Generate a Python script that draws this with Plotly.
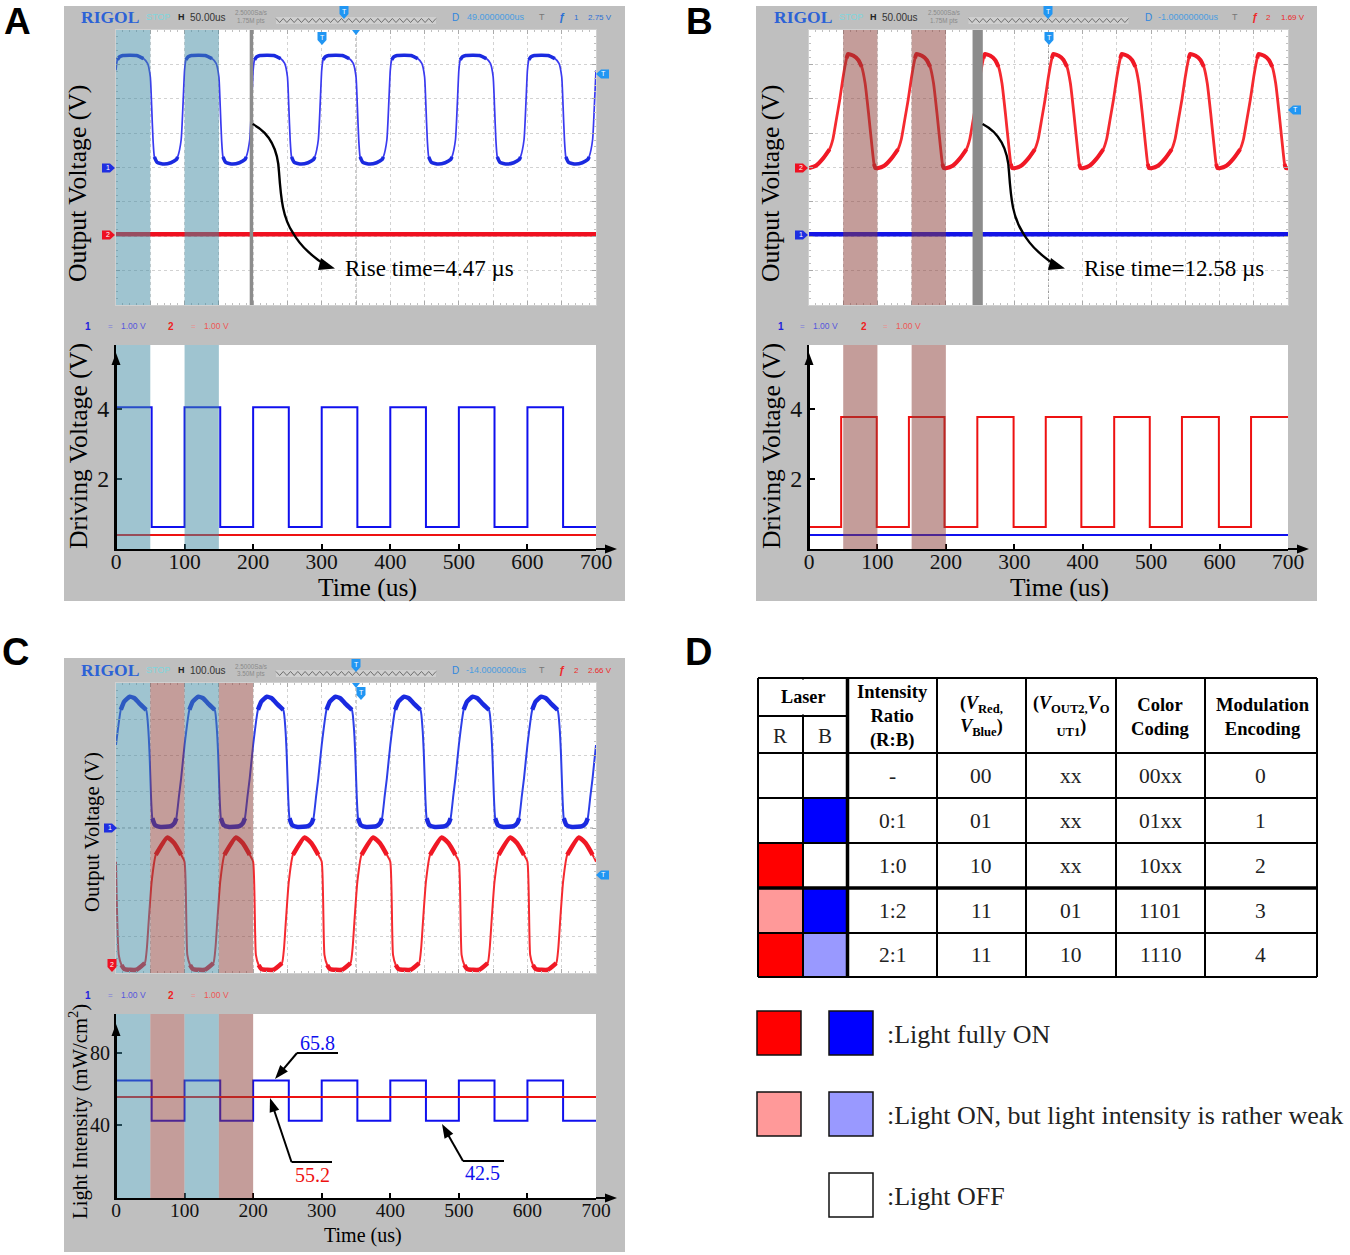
import plotly.graph_objects as go

W, H = 1350, 1255
SERIF = "Liberation Serif"
SANS = "Liberation Sans"

# --- one-period scope waveforms (time in us, level in scope divisions) ---
A_BLUE_T = [0, 2, 5, 10, 30, 40, 46, 50, 52, 54, 56, 60, 70, 80, 88, 90, 95, 98]
A_BLUE_V = [6.83, 7.13, 7.22, 7.26, 7.26, 7.17, 7.03, 6.64, 5.77, 4.80, 4.31, 4.15, 4.10, 4.14, 4.23, 4.31, 4.80, 5.96]
A_RED_T = [0, 700]
A_RED_V = [2.06, 2.06]

B_RED_T = [0, 10, 20, 30, 35, 40, 45, 50, 55, 57, 65, 72, 77, 82, 87, 92, 95, 97]
B_RED_V = [3.98, 4.05, 4.25, 4.53, 4.83, 5.40, 5.98, 6.65, 7.18, 7.30, 7.25, 7.13, 6.93, 6.45, 5.58, 4.62, 4.10, 3.98]
B_BLUE_T = [0, 700]
B_BLUE_V = [2.06, 2.06]

C_BLUE_T = [0, 7, 12, 20, 27, 34, 44, 47, 49, 51, 53, 57, 65, 80, 85, 88, 92, 95]
C_BLUE_V = [6.29, 7.26, 7.49, 7.62, 7.58, 7.44, 7.26, 6.75, 6.01, 4.91, 4.27, 4.08, 4.03, 4.05, 4.13, 4.27, 4.91, 5.37]
C_RED_T = [0, 4, 8, 12, 30, 42, 45, 48, 52, 58, 75, 85, 95]
C_RED_V = [3.07, 0.50, 0.22, 0.11, 0.09, 0.27, 0.68, 1.51, 2.52, 3.26, 3.74, 3.58, 3.26]

# --- lower panels ---
TIME_TICKS = [0, 100, 200, 300, 400, 500, 600, 700]
A_DRIVE_HIGH = [[0, 52], [100, 152], [200, 252], [300, 352], [400, 452], [500, 552], [600, 652]]
A_DRIVE_LEVELS = [4.05, 0.63]
A_DRIVE_RED = 0.40
B_DRIVE_HIGH = [[47, 99], [146, 198], [246, 299], [346, 398], [446, 498], [545, 599], [646, 700]]
B_DRIVE_LEVELS = [3.77, 0.63]
B_DRIVE_BLUE = 0.40
C_INT_HIGH = [[0, 52], [100, 152], [200, 252], [300, 352], [400, 452], [500, 552], [600, 652]]
C_INT_LEVELS = [64.6, 42.5]
C_INT_RED = 55.6

TEAL = "#3f89a1"
ROSE = "#893b35"
A_SHADE = [(0, 50, TEAL), (100, 150, TEAL)]
B_SHADE = [(50, 100, ROSE), (150, 200, ROSE)]
C_SHADE = [(0, 50, TEAL), (50, 100, ROSE), (100, 150, TEAL), (150, 200, ROSE)]

# --- table ---
TABLE_RATIO = ["-", "0:1", "1:0", "1:2", "2:1"]
TABLE_V = ["00", "01", "10", "11", "11"]
TABLE_VOUT = ["xx", "xx", "xx", "01", "10"]
TABLE_COLOR = ["00xx", "01xx", "10xx", "1101", "1110"]
TABLE_MOD = ["0", "1", "2", "3", "4"]
TABLE_R = ["#ffffff", "#ffffff", "#ff0000", "#ff9999", "#ff0000"]
TABLE_B = ["#ffffff", "#0000ff", "#ffffff", "#0000ff", "#9999ff"]


def X(p):
    return p / W


def Y(p):
    return 1 - p / H


shapes, annos, traces = [], [], []


def text(x, y, s, size=12, color="black", family=SERIF, anchor="center", angle=0, weight=None):
    font = dict(size=size, color=color, family=family)
    if weight:
        font["weight"] = weight
    annos.append(dict(xref="paper", yref="paper", x=X(x), y=Y(y), text=s, showarrow=False,
                      xanchor=anchor, yanchor="middle", textangle=angle, borderpad=0, font=font))


def rect(x0, y0, x1, y1, fill, line=None, lw=0, layer="below"):
    shapes.append(dict(type="rect", xref="paper", yref="paper", x0=X(x0), x1=X(x1), y0=Y(y0), y1=Y(y1),
                       fillcolor=fill, layer=layer, line=dict(color=line or fill, width=lw)))


def seg(x0, y0, x1, y1, color="black", lw=2, layer="above"):
    shapes.append(dict(type="line", xref="paper", yref="paper", x0=X(x0), x1=X(x1), y0=Y(y0), y1=Y(y1),
                       layer=layer, line=dict(color=color, width=lw)))


def poly(pts, fill, layer="above"):
    d = "M " + " L ".join(f"{X(a):.5f},{Y(b):.5f}" for a, b in pts) + " Z"
    shapes.append(dict(type="path", xref="paper", yref="paper", path=d, fillcolor=fill, layer=layer,
                       line=dict(color=fill, width=0)))


def periodic(ts, vs, n=7, period=100):
    xs, ys = [], []
    for k in range(n):
        xs += [k * period + t for t in ts]
        ys += list(vs)
    xs.append(n * period)
    ys.append(vs[0])
    return xs, ys


def bands(xs, ys, lo, hi):
    """Keep only the flat, noisy parts of the wave for the thicker band."""
    out = []
    for y in ys:
        out.append(y if (y >= hi or y <= lo) else None)
    return xs, out


def square(high, levels, end=700):
    xs, ys = [], []
    cur = 0
    for a, b in high:
        if a > cur:
            xs += [cur, a]
            ys += [levels[1], levels[1]]
        xs += [a, b]
        ys += [levels[0], levels[0]]
        cur = b
    if cur < end:
        xs += [cur, end]
        ys += [levels[1], levels[1]]
    return xs, ys


layout_axes = {}


def sfx(idx):
    return "" if idx == 1 else str(idx)


def add_axes(idx, x0, x1, ytop, ybot, yrange, scope, yticks=None, tick_size=21.5, ytick_size=24, standoff=-8):
    xn = f"xaxis{sfx(idx)}"
    yn = f"yaxis{sfx(idx)}"
    common_x = dict(domain=[X(x0), X(x1)], range=[0, 700], anchor=f"y{sfx(idx)}", zeroline=False, automargin=False)
    common_y = dict(domain=[Y(ybot), Y(ytop)], range=yrange, anchor=f"x{sfx(idx)}", zeroline=False, automargin=False)
    if scope:
        scope_style = dict(showticklabels=False, ticks="inside", ticklen=4, tickcolor="#aaaaaa", tickwidth=1,
                           showgrid=True, gridcolor="#d2d2d2", griddash="dot", gridwidth=1, showline=True,
                           mirror="allticks", linecolor="#d0d0d0", linewidth=1)
        common_x.update(dtick=50, tick0=0, minor=dict(ticks="inside", dtick=10, ticklen=2, tickcolor="#c0c0c0"), **scope_style)
        common_y.update(dtick=1, tick0=0, minor=dict(ticks="inside", dtick=0.2, ticklen=2, tickcolor="#c0c0c0"), **scope_style)
    else:
        common_x.update(tickvals=TIME_TICKS, ticktext=[str(t) for t in TIME_TICKS], ticks="inside", ticklen=5,
                        tickcolor="black", tickwidth=1.5, showgrid=False, showline=True, linecolor="black",
                        linewidth=2, ticklabelstandoff=standoff, tickfont=dict(family=SERIF, size=tick_size, color="#111"))
        common_y.update(tickvals=yticks, ticktext=[str(t) for t in yticks], ticks="inside", ticklen=6,
                        tickcolor="black", tickwidth=1.5, showgrid=False, showline=True, linecolor="black",
                        linewidth=2, tickfont=dict(family=SERIF, size=ytick_size, color="#111"))
    layout_axes[xn] = common_x
    layout_axes[yn] = common_y


def line(idx, xs, ys, color, width, smooth=False):
    ln = dict(color=color, width=width, shape="spline", smoothing=0.5) if smooth else dict(color=color, width=width)
    traces.append(go.Scatter(x=xs, y=ys, xaxis=f"x{sfx(idx)}", yaxis=f"y{sfx(idx)}", mode="lines", connectgaps=False,
                             line=ln, hoverinfo="skip", showlegend=False))


def shade(idx, spans):
    for a, b, c in spans:
        shapes.append(dict(type="rect", xref=f"x{sfx(idx)}", yref=f"y{sfx(idx)} domain", x0=a, x1=b, y0=0, y1=1,
                           fillcolor=c, opacity=0.5, line=dict(width=0), layer="above"))


def center_cross(idx):
    xr = f"x{sfx(idx)}"
    yr = f"y{sfx(idx)}"
    shapes.append(dict(type="line", xref=f"{xr} domain", yref=yr, x0=0, x1=1, y0=4, y1=4, layer="below",
                       line=dict(color="#9a9a9a", width=1, dash="dot")))
    shapes.append(dict(type="line", xref=xr, yref=f"{yr} domain", x0=350, x1=350, y0=0, y1=1, layer="below",
                       line=dict(color="#9a9a9a", width=1, dash="dot")))


def pennant(x, y, label, color, direction):
    s = 4.5
    if direction == "right":
        pts = [(x - 6, y - s), (x + 2, y - s), (x + 7, y), (x + 2, y + s), (x - 6, y + s)]
    elif direction == "left":
        pts = [(x + 6, y - s), (x - 2, y - s), (x - 7, y), (x - 2, y + s), (x + 6, y + s)]
    else:
        pts = [(x - s, y - 6), (x + s, y - 6), (x + s, y + 2), (x, y + 7), (x - s, y + 2)]
    poly(pts, color)
    if label:
        text(x, y - 0.5, label, size=7, color="white", family=SANS)


def header(dx, dy, hval, sa, pts, dval, trig, trigv, trigc, bottom_y):
    text(110 + dx, 17 + dy, "<b>RIGOL</b>", size=17.5, color="#2c62d6")
    text(158 + dx, 17 + dy, "STOP", size=9, color="#7fd6dd", family=SANS)
    text(181 + dx, 17 + dy, "H", size=9, color="#222", family=SANS, weight=700)
    text(208 + dx, 17 + dy, hval, size=10, color="#333", family=SANS)
    text(251 + dx, 13 + dy, sa, size=6.3, color="#8a8a8a", family=SANS)
    text(251 + dx, 21 + dy, pts, size=6.3, color="#8a8a8a", family=SANS)
    rect(276 + dx, 17 + dy, 436 + dx, 24 + dy, "#cfcfcf")
    d = ""
    n = 44
    for i in range(n + 1):
        px_ = 276 + dx + i * 160 / n
        py_ = 18.5 + dy if i % 2 == 0 else 22.5 + dy
        d += ("M " if i == 0 else " L ") + f"{X(px_):.5f},{Y(py_):.5f}"
    shapes.append(dict(type="path", xref="paper", yref="paper", path=d, layer="above",
                       line=dict(color="#555", width=0.8)))
    text(455.5 + dx, 17 + dy, "D", size=10, color="#2e86de", family=SANS)
    text(496 + dx, 17 + dy, dval, size=9, color="#4a9de0", family=SANS)
    text(542 + dx, 17 + dy, "T", size=9, color="#777", family=SANS)
    text(562 + dx, 17 + dy, "ƒ", size=11, color=trigc, family=SANS, weight=700)
    text(576 + dx, 17 + dy, trig, size=8, color=trigc, family=SANS)
    text(600 + dx, 17 + dy, trigv, size=8, color=trigc, family=SANS)
    text(88 + dx, bottom_y, "1", size=10, color="#2222dd", family=SANS, weight=700)
    text(110 + dx, bottom_y, "=", size=8, color="#7777dd", family=SANS)
    text(133 + dx, bottom_y, "1.00 V", size=8.5, color="#5555dd", family=SANS)
    text(171 + dx, bottom_y, "2", size=10, color="#ee2222", family=SANS, weight=700)
    text(193 + dx, bottom_y, "=", size=8, color="#ee8888", family=SANS)
    text(216 + dx, bottom_y, "1.00 V", size=8.5, color="#ee5555", family=SANS)


def axis_arrows(x0, x1, y_axis, y_top):
    seg(x1, y_axis, x1 + 14, y_axis)
    poly([(x1 + 21, y_axis), (x1 + 9, y_axis - 4.5), (x1 + 9, y_axis + 4.5)], "black")
    seg(x0, y_axis, x0, y_top + 4)
    poly([(x0, y_top), (x0 - 4.5, y_top + 12), (x0 + 4.5, y_top + 12)], "black")


def rise_curve(dx):
    d = (f"M {X(252.6+dx):.5f},{Y(124):.5f} C {X(270+dx):.5f},{Y(133):.5f} {X(278+dx):.5f},{Y(150):.5f} {X(279+dx):.5f},{Y(172):.5f} "
         f"C {X(281+dx):.5f},{Y(200):.5f} {X(283+dx):.5f},{Y(218):.5f} {X(293+dx):.5f},{Y(233):.5f} "
         f"C {X(301+dx):.5f},{Y(247):.5f} {X(315+dx):.5f},{Y(259):.5f} {X(326+dx):.5f},{Y(265):.5f}")
    shapes.append(dict(type="path", xref="paper", yref="paper", path=d, layer="above",
                       line=dict(color="black", width=2.4)))
    poly([(335 + dx, 268.5), (321 + dx, 258), (318 + dx, 270)], "black")


# ---------- backgrounds ----------
GRAY = "#bfbfbf"
rect(64, 6, 625, 601, GRAY)
rect(756, 6, 1317, 601, GRAY)
rect(64, 658, 625, 1252, GRAY)
for x0, x1, y0, y1 in [(116, 596, 30, 305), (116, 596, 345, 549), (809, 1288, 30, 305), (809, 1288, 345, 549),
                       (116, 596, 683, 973), (116, 596, 1014, 1198)]:
    rect(x0, y0, x1, y1, "white")

# ---------- Panel A ----------
add_axes(1, 116, 596, 30, 305, [0, 8], True)
add_axes(2, 116, 596, 345, 549, [0, 5.83], False, [2, 4])
center_cross(1)
xs, ys = periodic(A_BLUE_T, A_BLUE_V)
line(1, xs, ys, "#3a3af0", 1.7, smooth=True)
bx, by = bands(xs, ys, 4.32, 7.1)
line(1, bx, by, "#1a2ae0", 3.6, smooth=True)
line(1, A_RED_T, A_RED_V, "#f01020", 4.5)
shade(1, A_SHADE)
shade(2, A_SHADE)
shapes.append(dict(type="rect", xref="x", yref="y domain", x0=195, x1=200, y0=0, y1=1, fillcolor="#8c8c8c",
                   line=dict(width=0), layer="above"))
xs, ys = square(A_DRIVE_HIGH, A_DRIVE_LEVELS)
line(2, xs, ys, "#1010ee", 2)
line(2, [0, 700], [A_DRIVE_RED, A_DRIVE_RED], "#ee1111", 2)
axis_arrows(116, 596, 549, 353)
header(0, 0, "50.00us", "2.5000Sa/s", "1.75M pts", "49.0000000us", "1", "2.75 V", "#2a6fd6", 326)
text(78, 184, "Output Voltage (V)", size=25.7, angle=-90)
text(78, 446, "Driving Voltage (V)", size=25.7, angle=-90)
text(367, 587, "Time (us)", size=25.5)
text(344, 268, "Rise time=4.47 µs", size=23, anchor="left")
rise_curve(0)
pennant(108, 168, "1", "#1f2fe0", "right")
pennant(108, 235, "2", "#ee1122", "right")
pennant(322, 38, "T", "#2196f3", "down")
poly([(352, 30), (360, 30), (356, 35)], "#2196f3")
pennant(344, 12, "T", "#2196f3", "down")
pennant(603, 74, "T", "#2196f3", "left")
text(17, 21.5, "<b>A</b>", size=37, family=SANS)

# ---------- Panel B ----------
add_axes(3, 809, 1288, 30, 305, [0, 8], True)
add_axes(4, 809, 1288, 345, 549, [0, 5.83], False, [2, 4])
center_cross(3)
xs, ys = periodic(B_RED_T, B_RED_V)
line(3, xs, ys, "#f52a30", 2.8, smooth=True)
bx, by = bands(xs, ys, 4.6, 6.9)
line(3, bx, by, "#f01825", 4, smooth=True)
line(3, B_BLUE_T, B_BLUE_V, "#1414e6", 4.5)
shade(3, B_SHADE)
shade(4, B_SHADE)
shapes.append(dict(type="rect", xref="x3", yref="y3 domain", x0=239, x1=254, y0=0, y1=1, fillcolor="#8c8c8c",
                   line=dict(width=0), layer="above"))
xs, ys = square(B_DRIVE_HIGH, B_DRIVE_LEVELS)
line(4, xs, ys, "#ee1111", 2)
line(4, [0, 700], [B_DRIVE_BLUE, B_DRIVE_BLUE], "#1010ee", 2)
axis_arrows(809, 1288, 549, 353)
header(692.5, 0, "50.00us", "2.5000Sa/s", "1.75M pts", "-1.00000000us", "2", "1.69 V", "#ee2a2a", 326)
text(771, 184, "Output Voltage (V)", size=25.7, angle=-90)
text(771, 446, "Driving Voltage (V)", size=25.7, angle=-90)
text(1059, 587, "Time (us)", size=25.5)
text(1083, 268, "Rise time=12.58 µs", size=23, anchor="left")
rise_curve(730)
pennant(801, 168, "2", "#ee1122", "right")
pennant(801, 235, "1", "#1f2fe0", "right")
pennant(1049, 38, "T", "#2196f3", "down")
pennant(1048, 12, "T", "#2196f3", "down")
pennant(1295, 110, "T", "#2196f3", "left")
text(699, 21.5, "<b>B</b>", size=37, family=SANS)

# ---------- Panel C ----------
add_axes(5, 116, 596, 683, 973, [0, 8], True)
add_axes(6, 116, 596, 1014, 1198, [0, 101.2], False, [40, 80], tick_size=19.5, ytick_size=20, standoff=-6)
center_cross(5)
xs, ys = periodic(C_BLUE_T, C_BLUE_V)
line(5, xs, ys, "#2d3fe8", 2, smooth=True)
bx, by = bands(xs, ys, 4.28, 7.25)
line(5, bx, by, "#1a2ae0", 4.5, smooth=True)
xs, ys = periodic(C_RED_T, C_RED_V)
line(5, xs, ys, "#f52a30", 2, smooth=True)
bx, by = bands(xs, ys, 0.3, 3.25)
line(5, bx, by, "#f01825", 4.5, smooth=True)
shade(5, C_SHADE)
shade(6, C_SHADE)
xs, ys = square(C_INT_HIGH, C_INT_LEVELS)
line(6, xs, ys, "#1010ee", 2)
line(6, [0, 700], [C_INT_RED, C_INT_RED], "#ee1111", 2)
axis_arrows(116, 596, 1198, 1024)
header(0, 653, "100.0us", "2.5000Sa/s", "3.50M pts", "-14.0000000us", "2", "2.66 V", "#ee2a2a", 995)
text(92, 832, "Output Voltage (V)", size=20.8, angle=-90)
text(78, 1112, "Light Intensity (mW/cm<sup>2</sup>)", size=20.7, angle=-90)
text(363, 1235, "Time (us)", size=20)
text(317, 1043, "65.8", size=20, color="#1010ee")
text(312, 1175, "55.2", size=20, color="#ee1111")
text(483, 1173, "42.5", size=20, color="#1010ee")
for (tipx, tipy, mx, my, ex) in [(275, 1079, 297, 1053, 338), (270, 1098, 291.5, 1162, 332), (442, 1124, 463, 1161, 504)]:
    seg(ex, my, mx, my, lw=2)
    seg(mx, my, tipx + (mx - tipx) * 0.2, tipy + (my - tipy) * 0.2, lw=2)
    dx_, dy_ = mx - tipx, my - tipy
    n_ = (dx_ ** 2 + dy_ ** 2) ** 0.5
    ux, uy = dx_ / n_, dy_ / n_
    poly([(tipx, tipy), (tipx + 14 * ux - 5 * uy, tipy + 14 * uy + 5 * ux), (tipx + 14 * ux + 5 * uy, tipy + 14 * uy - 5 * ux)], "black")
pennant(110, 828, "1", "#1f2fe0", "right")
pennant(112, 965, "2", "#ee1122", "down")
pennant(361, 693, "T", "#2196f3", "down")
poly([(352, 683), (360, 683), (356, 688)], "#2196f3")
pennant(356, 665, "T", "#2196f3", "down")
pennant(603, 875, "T", "#2196f3", "left")
text(15, 652, "<b>C</b>", size=38, family=SANS)

# ---------- Panel D: table ----------
text(698, 652, "<b>D</b>", size=38, family=SANS)
TX = [758, 803, 847.5, 937, 1026, 1116, 1205, 1317]
TY = [753, 798, 843, 888, 933, 977]
for i in range(5):
    rect(TX[0], TY[i], TX[1], TY[i + 1], TABLE_R[i], layer="above")
    rect(TX[1], TY[i], TX[2], TY[i + 1], TABLE_B[i], layer="above")
for x_ in TX:
    seg(x_, 678, x_, 977, lw=3.5 if x_ == 847.5 else 2)
seg(803, 679.5, 803, 714.5, color="white", lw=3)
for y_ in [678, 753, 798, 843, 888, 933, 977]:
    seg(758, y_, 1317, y_, lw=3.5 if y_ == 888 else 2)
seg(758, 716, 847.5, 716, lw=2)
text(803, 697, "<b>Laser</b>", size=18.2)
text(780, 736, "R", size=21, color="#222")
text(825, 736, "B", size=21, color="#222")
text(892, 716, "<b>Intensity<br>Ratio<br>(R:B)</b>", size=18.6)
text(981, 716, "<b>(<i>V</i><sub>Red,</sub><br><i>V</i><sub>Blue</sub>)</b>", size=18)
text(1071, 716, "<b>(<i>V</i><sub>OUT2,</sub><i>V</i><sub>O</sub><br><sub>UT1</sub>)</b>", size=18)
text(1160, 716, "<b>Color<br>Coding</b>", size=18.6)
text(1263, 716, "<b>Modulation<br>Encoding</b>", size=18.6)
for i in range(5):
    cy = (TY[i] + TY[i + 1]) / 2 + 0.5
    text(892, cy, TABLE_RATIO[i], size=21.5, color="#222")
    text(981, cy, TABLE_V[i], size=21.5, color="#222")
    text(1071, cy, TABLE_VOUT[i], size=21.5, color="#222")
    text(1160, cy, TABLE_COLOR[i], size=21.5, color="#222")
    text(1260, cy, TABLE_MOD[i], size=21.5, color="#222")

# legend
for (x0, y0, c) in [(757, 1011, "#ff0000"), (829, 1011, "#0000ff"), (757, 1092, "#ff9999"), (829, 1092, "#9999ff"), (829, 1173, "#ffffff")]:
    rect(x0, y0, x0 + 44, y0 + 44, c, line="#111111", lw=1.5, layer="above")
text(886, 1034, ":Light fully ON", size=26, anchor="left", color="#222")
text(886, 1115, ":Light ON, but light intensity is rather weak", size=26, anchor="left", color="#222")
text(886, 1196, ":Light OFF", size=26, anchor="left", color="#222")

fig = go.Figure(data=traces)
fig.update_layout(width=W, height=H, margin=dict(l=0, r=0, t=0, b=0), paper_bgcolor="white", plot_bgcolor="rgba(0,0,0,0)",
                  showlegend=False, shapes=shapes, annotations=annos, **layout_axes)
fig.write_html("out.html", config={"displayModeBar": False},
               post_script="document.body.style.margin='0';document.body.style.overflow='hidden';")
